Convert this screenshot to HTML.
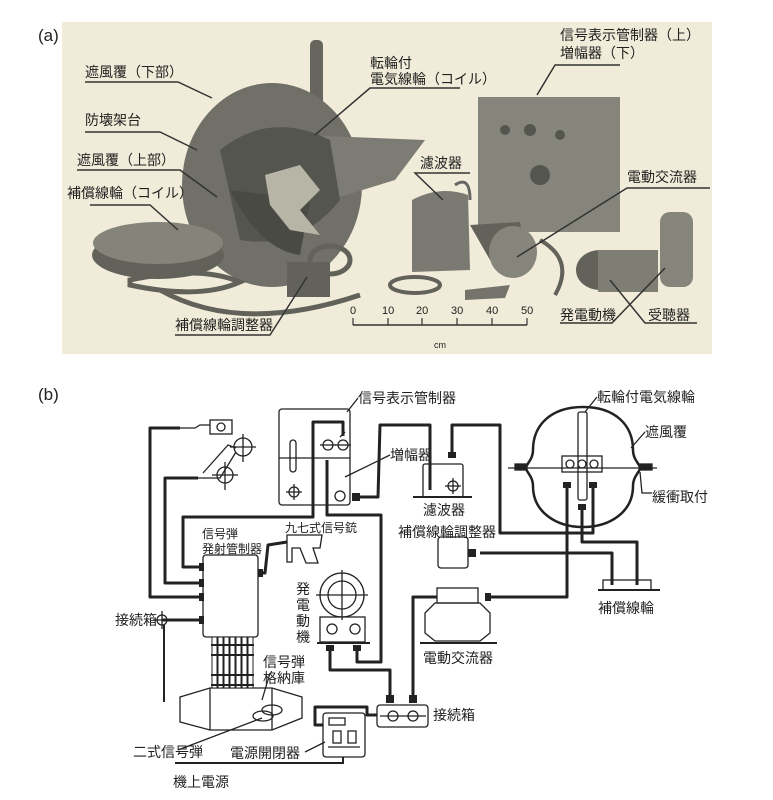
<!DOCTYPE html>
<html><head><meta charset="utf-8"><style>
html,body{margin:0;padding:0;background:#fff;}
svg{display:block;}
text{font-family:"Liberation Sans","Noto Sans CJK JP",sans-serif;fill:#222;}
</style></head><body>
<svg width="773" height="800" viewBox="0 0 773 800" xmlns="http://www.w3.org/2000/svg">

<!-- ===== (a) photo ===== -->
<text x="38" y="41" font-size="17">(a)</text>
<rect x="62" y="22" width="650" height="332" fill="#f1ecd9"/>
<g>
 <rect x="310" y="40" width="13" height="75" rx="5" fill="#66665f"/>
 <ellipse cx="272" cy="185" rx="90" ry="102" fill="#707068"/>
 <path d="M300 135 L425 140 L395 180 L330 200 Z" fill="#7c7c74"/>
 <path d="M220 150 Q270 110 330 140 L340 200 Q300 250 240 240 Z" fill="#55554f"/>
 <path d="M230 190 Q260 250 300 255 L310 200 Z" fill="#4a4a45"/>
 <path d="M265 175 L300 165 L320 190 L300 210 L320 235 L290 230 L270 205 Z" fill="#b7b5a6"/>
 <rect x="287" y="262" width="43" height="35" fill="#62625b"/>
 <ellipse cx="158" cy="255" rx="66" ry="24" fill="#62625b"/>
 <ellipse cx="158" cy="243" rx="65" ry="21" fill="#84847b"/>
 <path d="M130 280 Q200 265 240 282 Q200 300 130 285 Z M160 290 Q240 335 360 295" fill="none" stroke="#62625b" stroke-width="5"/>
 <ellipse cx="330" cy="260" rx="20" ry="14" fill="none" stroke="#62625b" stroke-width="5"/>
 <ellipse cx="415" cy="285" rx="25" ry="8" fill="none" stroke="#62625b" stroke-width="4"/>
 <path d="M412 200 Q440 185 468 195 L470 270 L412 272 Z" fill="#7a7a72"/>
 <path d="M455 185 Q470 175 470 200" fill="none" stroke="#666" stroke-width="3"/>
 <rect x="478" y="97" width="142" height="135" fill="#85857c"/>
 <circle cx="540" cy="175" r="10" fill="#55554f"/>
 <circle cx="505" cy="130" r="5" fill="#55554f"/><circle cx="530" cy="130" r="6" fill="#55554f"/><circle cx="560" cy="135" r="5" fill="#55554f"/>
 <path d="M470 225 L520 222 L525 250 L490 260 Z" fill="#62625b"/>
 <ellipse cx="513" cy="252" rx="24" ry="26" fill="#85857c"/>
 <path d="M540 240 Q575 260 555 295" fill="none" stroke="#62625b" stroke-width="4"/>
 <path d="M465 290 L510 285 L505 298 L465 300 Z" fill="#74746c"/>
 <ellipse cx="600" cy="270" rx="24" ry="20" fill="#62625b"/>
 <rect x="598" y="250" width="60" height="42" fill="#7e7e75"/>
 <rect x="660" y="212" width="33" height="75" rx="10" fill="#85857c"/>
</g>
<g stroke="#333" stroke-width="1.5" fill="none">
 <path d="M85 82 L178 82 L212 98"/>
 <path d="M85 132 L160 132 L197 150"/>
 <path d="M77 170 L180 170 L217 197"/>
 <path d="M90 205 L150 205 L178 230"/>
 <path d="M175 335 L270 335 L307 277"/>
 <path d="M460 88 L370 88 L315 135"/>
 <path d="M620 65 L555 65 L537 95"/>
 <path d="M470 173 L415 173 L443 200"/>
 <path d="M710 188 L627 188 L517 257"/>
 <path d="M560 323 L612 323 L665 268"/>
 <path d="M697 323 L645 323 L610 280"/>
 <path d="M353 325 L527 325"/>
</g>
<g stroke="#333" stroke-width="1.2">
 <line x1="353" y1="318" x2="353" y2="325"/><line x1="388" y1="318" x2="388" y2="325"/><line x1="422" y1="318" x2="422" y2="325"/><line x1="457" y1="318" x2="457" y2="325"/><line x1="492" y1="318" x2="492" y2="325"/><line x1="527" y1="318" x2="527" y2="325"/>
</g>
<g font-size="11" font-family="Liberation Serif,serif">
 <text x="350" y="314">0</text><text x="382" y="314">10</text><text x="416" y="314">20</text><text x="451" y="314">30</text><text x="486" y="314">40</text><text x="521" y="314">50</text>
 <text x="434" y="348" font-size="9">cm</text>
</g>
<g font-size="14">
 <text x="85" y="77">遮風覆（下部）</text>
 <text x="85" y="125">防壊架台</text>
 <text x="77" y="165">遮風覆（上部）</text>
 <text x="67" y="198">補償線輪（コイル）</text>
 <text x="175" y="330">補償線輪調整器</text>
 <text x="370" y="68">転輪付</text>
 <text x="370" y="84">電気線輪（コイル）</text>
 <text x="560" y="40">信号表示管制器（上）</text>
 <text x="560" y="58">増幅器（下）</text>
 <text x="420" y="168">濾波器</text>
 <text x="627" y="182">電動交流器</text>
 <text x="560" y="320">発電動機</text>
 <text x="648" y="320">受聴器</text>
</g>

<!-- ===== (b) diagram ===== -->
<text x="38" y="400" font-size="17">(b)</text>
<g fill="none" stroke="#222" stroke-width="3" stroke-linejoin="round">
 <path d="M203 597 L150 597 L150 428 L180 428"/>
 <path d="M203 583 L165 583 L165 478 L198 478"/>
 <path d="M203 567 L183 567 L183 517 L313 517 L313 422 L343 422 L343 436"/>
 <path d="M327 460 L327 515 L381 515 L381 662 L357 662 L357 650"/>
 <path d="M330 650 L330 670 L390 670 L390 697"/>
 <path d="M360 497 L378 497 L380 425 L430 425 L430 490"/>
 <path d="M452 455 L452 425 L500 425 L500 533 L593 533 L593 487"/>
 <path d="M567 485 L567 597 L490 597"/>
 <path d="M480 553 L612 553 L612 585"/>
 <path d="M582 508 L582 542 L637 542 L637 585"/>
 <path d="M413 697 L413 597 L437 597"/>
 <path d="M258 573 L265 573 L268 545 L287 542"/>
 <path d="M377 715 L367 715 L367 707 L315 707 L315 725 L323 725"/>
 <path d="M162 620 L203 620"/>
 <path d="M164 625 L164 702" stroke-width="2"/>
</g>
<g stroke="#222" stroke-width="1.3" fill="none">
 <path d="M175 763 L343 763 L343 757" stroke-width="2"/>
 <path d="M180 428 L195 428 L200 425 L210 425"/>
 <rect x="210" y="420" width="22" height="14"/>
 <circle cx="221" cy="427" r="4"/>
 <path d="M198 478 L220 478 L236 452"/>
 <path d="M203 473 L228 445 L236 448"/>
 <circle cx="243" cy="447" r="9"/><path d="M230 447 L256 447 M243 434 L243 462"/>
 <circle cx="225" cy="475" r="8"/><path d="M212 475 L238 475 M225 462 L225 490"/>
 <rect x="279" y="409" width="71" height="96" rx="3"/>
 <line x1="279" y1="458" x2="350" y2="458"/>
 <rect x="290" y="440" width="6" height="32" rx="3"/>
 <circle cx="294" cy="492" r="5"/><path d="M286 492 L302 492 M294 484 L294 500"/>
 <circle cx="328" cy="445" r="5"/><path d="M320 445 L336 445"/>
 <circle cx="343" cy="445" r="5"/><path d="M335 445 L351 445"/>
 <circle cx="340" cy="496" r="5"/>
 <line x1="340" y1="437" x2="345" y2="432"/>
 <line x1="358" y1="398" x2="347" y2="412"/>
 <line x1="390" y1="455" x2="345" y2="477"/>
 <rect x="423" y="464" width="40" height="33" rx="2"/>
 <line x1="413" y1="497" x2="472" y2="497" stroke-width="2"/>
 <circle cx="453" cy="486" r="5"/><path d="M445 486 L461 486 M453 478 L453 494"/>
 <path d="M583 407 C615 407 633 425 633 450 C633 460 640 464 640 468 C640 472 633 476 633 486 C633 512 610 527 583 527 C556 527 533 512 533 486 C533 476 526 472 526 468 C526 464 533 460 533 450 C533 425 551 407 583 407 Z" stroke-width="2.5"/>
 <line x1="508" y1="468" x2="657" y2="468"/>
 <rect x="578" y="412" width="9" height="88" rx="2"/>
 <rect x="562" y="456" width="40" height="16"/>
 <circle cx="570" cy="464" r="4"/><circle cx="582" cy="464" r="4"/><circle cx="594" cy="464" r="4"/>
 <rect x="515" y="464" width="12" height="6" fill="#222"/><rect x="640" y="464" width="12" height="6" fill="#222"/>
 <line x1="597" y1="397" x2="585" y2="412"/>
 <line x1="645" y1="432" x2="631" y2="448"/>
 <path d="M652 493 L642 493 L640 472"/>
 <rect x="438" y="537" width="30" height="31" rx="3"/>
 <rect x="603" y="580" width="48" height="10"/>
 <line x1="598" y1="590" x2="660" y2="590" stroke-width="2"/>
 <rect x="203" y="555" width="55" height="82" rx="3"/>
 <path d="M287 535 L322 535 L320 548 L313 548 L318 563 L306 563 L300 548 L292 548 L292 562 L287 562 Z"/>
 <circle cx="342" cy="595" r="22"/><circle cx="342" cy="595" r="14"/>
 <path d="M316 595 L368 595 M342 570 L342 620"/>
 <rect x="320" y="617" width="45" height="25"/>
 <line x1="317" y1="643" x2="370" y2="643" stroke-width="2"/>
 <circle cx="332" cy="629" r="5"/><circle cx="355" cy="629" r="5"/>
 <rect x="437" y="588" width="41" height="15"/>
 <path d="M435 603 L480 603 L490 613 L490 633 L480 641 L435 641 L425 633 L425 613 Z"/>
 <line x1="420" y1="643" x2="497" y2="643" stroke-width="2"/>
 <path d="M210 688 L272 688 L302 697 L302 718 L272 730 L210 730 L180 722 L180 697 Z"/>
 <line x1="210" y1="688" x2="210" y2="730"/><line x1="272" y1="688" x2="272" y2="730"/>
 <ellipse cx="263" cy="716" rx="10" ry="5"/><ellipse cx="272" cy="710" rx="10" ry="5"/>
 <line x1="270" y1="673" x2="262" y2="700"/>
 <path d="M178 750 L262 718"/>
 <rect x="377" y="705" width="51" height="22" rx="3"/>
 <circle cx="393" cy="716" r="5"/><circle cx="413" cy="716" r="5"/><path d="M380 716 L426 716"/>
 <circle cx="162" cy="620" r="5"/><path d="M153 620 L170 620 M162 611 L162 629"/>
 <rect x="323" y="713" width="42" height="44" rx="3"/>
 <rect x="329" y="718" width="16" height="7"/>
 <rect x="333" y="731" width="8" height="12"/><rect x="348" y="731" width="8" height="12"/>
 <line x1="328" y1="747" x2="360" y2="747"/>
 <line x1="305" y1="752" x2="325" y2="742"/>
</g>
<g fill="#222">
 <rect x="199" y="563" width="5" height="8"/><rect x="199" y="579" width="5" height="8"/><rect x="199" y="593" width="5" height="8"/><rect x="199" y="616" width="5" height="8"/>
 <rect x="258" y="569" width="5" height="8"/>
 <rect x="448" y="452" width="8" height="6"/>
 <rect x="563" y="482" width="8" height="6"/><rect x="589" y="482" width="8" height="6"/><rect x="578" y="504" width="8" height="6"/>
 <rect x="468" y="549" width="8" height="8"/>
 <rect x="485" y="593" width="6" height="8"/>
 <rect x="326" y="645" width="8" height="6"/><rect x="353" y="645" width="8" height="6"/>
 <rect x="386" y="695" width="8" height="8"/><rect x="409" y="695" width="8" height="8"/>
 <rect x="352" y="493" width="8" height="8"/>
</g>
<g stroke="#222" stroke-width="1" fill="#fff">
 <rect x="212" y="637" width="5" height="51"/><rect x="218" y="637" width="5" height="51"/><rect x="224" y="637" width="5" height="51"/><rect x="230" y="637" width="5" height="51"/><rect x="236" y="637" width="5" height="51"/><rect x="242" y="637" width="5" height="51"/><rect x="248" y="637" width="5" height="51"/>
</g>
<g stroke="#222" stroke-width="2"><line x1="211" y1="645" x2="254" y2="645"/><line x1="211" y1="655" x2="254" y2="655"/><line x1="211" y1="675" x2="254" y2="675"/><line x1="211" y1="685" x2="254" y2="685"/></g>

<g font-size="14">
 <text x="358" y="403">信号表示管制器</text>
 <text x="597" y="402">転輪付電気線輪</text>
 <text x="645" y="437">遮風覆</text>
 <text x="390" y="460">増幅器</text>
 <text x="652" y="502">緩衝取付</text>
 <text x="423" y="515">濾波器</text>
 <text x="398" y="537">補償線輪調整器</text>
 <text x="285" y="532" font-size="12">九七式信号銃</text>
 <text x="202" y="538" font-size="12">信号弾</text>
 <text x="202" y="553" font-size="12">発射管制器</text>
 <text x="296" y="594">発</text><text x="296" y="610">電</text><text x="296" y="626">動</text><text x="296" y="642">機</text>
 <text x="115" y="625">接続箱</text>
 <text x="598" y="613">補償線輪</text>
 <text x="423" y="663">電動交流器</text>
 <text x="263" y="667">信号弾</text>
 <text x="263" y="683">格納庫</text>
 <text x="433" y="720">接続箱</text>
 <text x="133" y="757">二式信号弾</text>
 <text x="230" y="758">電源開閉器</text>
 <text x="173" y="787">機上電源</text>
</g>
</svg>
</body></html>
